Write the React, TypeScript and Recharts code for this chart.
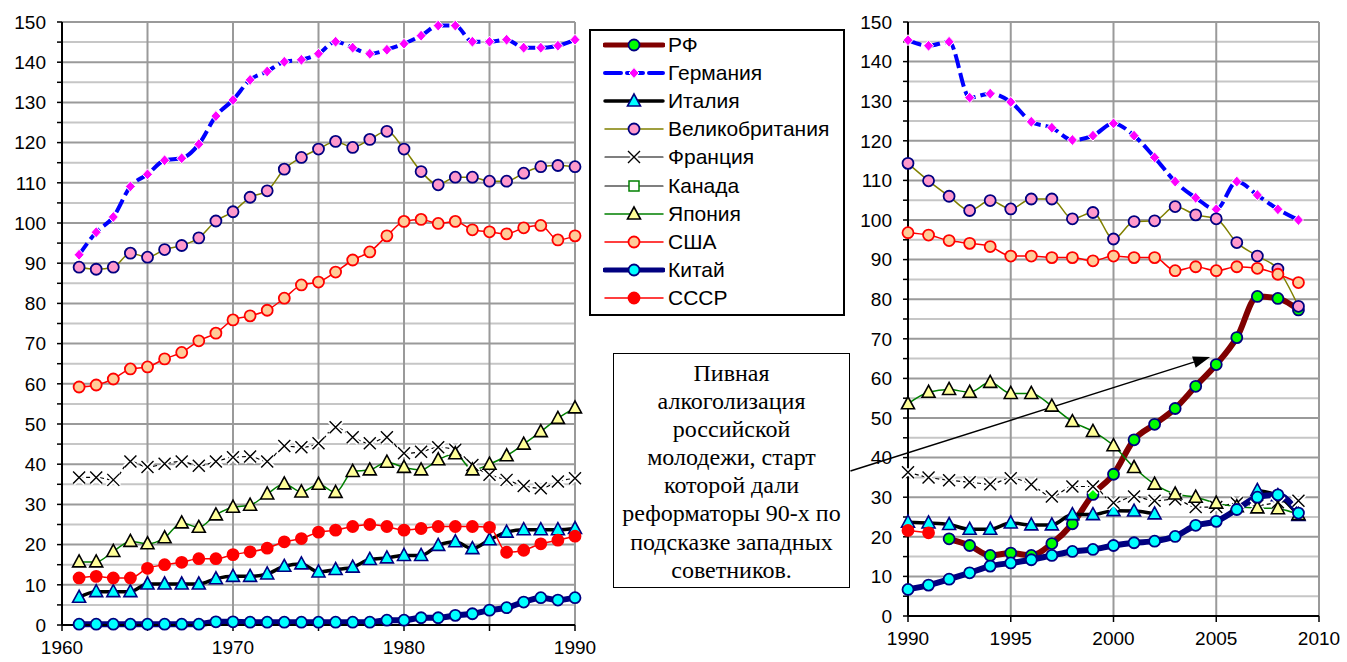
import React from 'react';
import {
  LineChart,
  Line,
  XAxis,
  YAxis,
  CartesianGrid,
  ReferenceLine,
} from 'recharts';

// годы и значения
const yearsA = [
  1961, 1962, 1963, 1964, 1965, 1966, 1967, 1968, 1969, 1970,
  1971, 1972, 1973, 1974, 1975, 1976, 1977, 1978, 1979, 1980,
  1981, 1982, 1983, 1984, 1985, 1986, 1987, 1988, 1989, 1990,
];
const germanyA = [92.1, 97.7, 101.5, 109.1, 112.1, 115.6, 116.1, 119.6, 126.6, 130.6, 135.6, 137.7, 140.1, 140.6, 142.1, 145.1, 143.6, 142.1, 143.1, 144.6, 146.6, 149.1, 149.1, 145.1, 145.1, 145.6, 143.6, 143.6, 144.1, 145.6];
const ukA = [89.0, 88.5, 89.0, 92.5, 91.5, 93.4, 94.4, 96.3, 100.5, 102.8, 106.4, 108.0, 113.4, 116.3, 118.4, 120.3, 118.8, 120.8, 122.8, 118.4, 112.8, 109.5, 111.4, 111.4, 110.4, 110.4, 112.4, 114.0, 114.3, 114.0];
const usaA = [59.2, 59.7, 61.2, 63.7, 64.2, 66.2, 67.8, 70.7, 72.6, 75.9, 76.9, 78.3, 81.3, 84.6, 85.3, 87.8, 90.8, 92.8, 96.8, 100.4, 100.9, 99.9, 100.4, 98.3, 97.8, 97.3, 98.8, 99.4, 95.8, 96.8];
const franceA = [36.7, 36.7, 36.1, 40.7, 39.3, 40.1, 40.7, 39.6, 40.7, 41.7, 41.9, 40.7, 44.5, 44.2, 45.2, 49.2, 46.7, 45.2, 46.7, 42.7, 43.1, 44.2, 43.6, 39.8, 37.4, 36.1, 34.6, 34.0, 35.7, 36.5];
const japanA = [15.7, 15.7, 18.3, 20.8, 20.2, 21.7, 25.4, 24.3, 27.4, 29.3, 29.8, 32.6, 35.1, 33.1, 35.0, 33.0, 38.2, 38.6, 40.5, 39.2, 38.6, 41.1, 42.6, 38.6, 40.0, 42.1, 45.0, 48.1, 51.4, 54.0];
const ussrA = [11.7, 12.1, 11.7, 11.7, 14.1, 15.0, 15.6, 16.5, 16.5, 17.5, 18.2, 19.1, 20.7, 21.5, 23.1, 23.6, 24.5, 25.0, 24.5, 23.6, 24.0, 24.5, 24.5, 24.5, 24.3, 18.1, 18.6, 20.2, 21.1, 22.1];
const italyA = [6.9, 8.3, 8.3, 8.3, 10.2, 10.2, 10.2, 10.2, 11.5, 12.1, 12.1, 12.7, 14.6, 15.2, 13.2, 13.8, 14.4, 16.3, 16.7, 17.3, 17.3, 19.8, 20.7, 19.0, 21.2, 23.1, 23.7, 23.7, 23.7, 24.0];
const chinaA = [0.2, 0.2, 0.2, 0.2, 0.2, 0.2, 0.2, 0.2, 0.8, 0.8, 0.7, 0.7, 0.7, 0.7, 0.7, 0.7, 0.7, 0.7, 1.2, 1.2, 1.8, 1.8, 2.4, 2.8, 3.7, 4.3, 5.7, 6.8, 6.2, 6.8];

const yearsB = [
  1990, 1991, 1992, 1993, 1994, 1995, 1996, 1997, 1998, 1999,
  2000, 2001, 2002, 2003, 2004, 2005, 2006, 2007, 2008, 2009,
];
const rfB = [null, null, 19.5, 17.8, 15.3, 15.9, 15.3, 18.3, 23.3, 30.7, 35.8, 44.5, 48.4, 52.4, 58.0, 63.5, 70.3, 80.7, 80.2, 77.3];
const germanyB = [145.4, 144.0, 145.0, 130.9, 131.9, 129.8, 124.8, 123.3, 120.2, 121.3, 124.4, 121.3, 115.8, 109.7, 105.6, 102.7, 109.7, 106.3, 102.7, 100.0];
const italyB = [23.7, 23.5, 23.1, 21.9, 21.9, 23.5, 23.0, 23.0, 25.6, 25.6, 26.6, 26.5, 25.8, null, null, null, null, 31.7, 30.4, 25.4];
const ukB = [114.3, 109.9, 106.0, 102.4, 104.9, 102.8, 105.3, 105.3, 100.3, 101.9, 95.2, 99.6, 99.8, 103.4, 101.3, 100.3, 94.3, 90.9, 87.6, 78.2];
const franceB = [36.3, 35.0, 34.3, 33.8, 33.3, 34.8, 33.2, 30.2, 32.7, 32.7, 28.6, 30.2, 29.1, 29.5, 27.5, 27.5, 28.5, 27.9, 28.7, 29.1];
const japanB = [53.6, 56.5, 57.2, 56.5, 59.0, 56.2, 56.2, 53.0, 49.1, 46.6, 43.0, 37.5, 33.3, 30.8, 30.0, 28.5, 27.6, 27.3, 27.1, 25.6];
const usaB = [96.8, 96.2, 94.8, 94.1, 93.3, 90.9, 90.9, 90.5, 90.5, 89.7, 90.9, 90.5, 90.5, 87.2, 88.2, 87.2, 88.2, 87.8, 86.3, 84.2];
const chinaB = [6.7, 7.8, 9.3, 10.9, 12.6, 13.4, 14.2, 15.3, 16.3, 16.8, 17.8, 18.5, 18.9, 20.1, 22.9, 23.9, 26.9, 30.0, 30.6, 26.0];
const ussrB = [21.6, 21.0, null, null, null, null, null, null, null, null, null, null, null, null, null, null, null, null, null, null];

const yTicks = [0, 5, 10, 15, 20, 25, 30, 35, 40, 45, 50, 55, 60, 65, 70, 75, 80, 85, 90, 95, 100, 105, 110, 115, 120, 125, 130, 135, 140, 145, 150];
const xTicksA = [1960, 1965, 1970, 1975, 1980, 1985, 1990];
const xTicksB = [1990, 1995, 2000, 2005, 2010];

// стрелка выноски, в координатах правого графика
const arrowFrom = { x: 1987.2, y: 36.6 };
const arrowTo = { x: 2004.7, y: 65.4 };

const noteLines = [
  'Пивная',
  'алкоголизация',
  'российской',
  'молодежи, старт',
  'которой дали',
  'реформаторы 90-х по',
  'подсказке западных',
  'советников.',
];

const dataA = yearsA.map((year, i) => ({
  year,
  germany: germanyA[i],
  italy: italyA[i],
  uk: ukA[i],
  france: franceA[i],
  japan: japanA[i],
  usa: usaA[i],
  china: chinaA[i],
  ussr: ussrA[i],
}));

const dataB = yearsB.map((year, i) => ({
  year,
  rf: rfB[i],
  germany: germanyB[i],
  italy: italyB[i],
  uk: ukB[i],
  france: franceB[i],
  japan: japanB[i],
  usa: usaB[i],
  china: chinaB[i],
  ussr: ussrB[i],
}));

const FONT = '"Liberation Sans", Arial, sans-serif';

// стили серий (порядок = порядок отрисовки и легенды)
const SERIES = [
  { key: 'rf', name: 'РФ', stroke: '#800000', width: 6 },
  { key: 'germany', name: 'Германия', stroke: '#0000ff', width: 4, dash: '14 5' },
  { key: 'italy', name: 'Италия', stroke: '#000000', width: 3.5 },
  { key: 'uk', name: 'Великобритания', stroke: '#808000', width: 1.5 },
  { key: 'france', name: 'Франция', stroke: '#000000', width: 1.2, dash: '4 3' },
  { key: 'canada', name: 'Канада', stroke: '#000000', width: 1.2 },
  { key: 'japan', name: 'Япония', stroke: '#008000', width: 1.5 },
  { key: 'usa', name: 'США', stroke: '#ff0000', width: 1.5 },
  { key: 'china', name: 'Китай', stroke: '#000080', width: 6 },
  { key: 'ussr', name: 'СССР', stroke: '#ff0000', width: 1.5 },
];

function Marker({ kind, cx, cy }: { kind: string; cx: number; cy: number }) {
  const circle = (fill: string, stroke: string) => (
    <circle cx={cx} cy={cy} r={5.5} fill={fill} stroke={stroke} strokeWidth={1.8} />
  );
  const tri = (fill: string, stroke: string) => (
    <polygon
      points={`${cx},${cy - 7} ${cx - 6.5},${cy + 5} ${cx + 6.5},${cy + 5}`}
      fill={fill}
      stroke={stroke}
      strokeWidth={1.6}
      strokeLinejoin="miter"
    />
  );
  switch (kind) {
    case 'rf':
      return circle('#00ff00', '#000080');
    case 'germany':
      return (
        <polygon
          points={`${cx},${cy - 5.5} ${cx + 5},${cy} ${cx},${cy + 5.5} ${cx - 5},${cy}`}
          fill="#ff00ff"
          stroke="#ffffff"
          strokeWidth={1}
        />
      );
    case 'italy':
      return tri('#00ffff', '#000080');
    case 'uk':
      return circle('#ff99cc', '#000080');
    case 'france':
      return (
        <g>
          <path d={`M${cx - 6},${cy - 6}L${cx + 6},${cy + 6}M${cx - 6},${cy + 6}L${cx + 6},${cy - 6}`} stroke="#fff" strokeWidth={5} />
          <path d={`M${cx - 6},${cy - 6}L${cx + 6},${cy + 6}M${cx - 6},${cy + 6}L${cx + 6},${cy - 6}`} stroke="#000" strokeWidth={1.4} />
        </g>
      );
    case 'canada':
      return <rect x={cx - 5} y={cy - 5} width={10} height={10} fill="#fff" stroke="#008000" strokeWidth={1.5} />;
    case 'japan':
      return tri('#ffff99', '#000000');
    case 'usa':
      return circle('#ffcc99', '#ff0000');
    case 'china':
      return circle('#00ffff', '#000080');
    case 'ussr':
      return circle('#ff0000', '#ff0000');
    default:
      return null;
  }
}

const makeDot = (kind: string) => (p: any) => {
  if (p.cx == null || p.cy == null || p.value == null) return <g key={`d${p.index}`} />;
  return (
    <g key={`d${p.index}`}>
      <Marker kind={kind} cx={p.cx} cy={p.cy} />
    </g>
  );
};

const hLine = (p: any) => (
  <line
    key={`h${p.index}`}
    x1={p.x1}
    y1={p.y1}
    x2={p.x2}
    y2={p.y2}
    stroke={p.index % 2 === 0 ? '#9a9a9a' : '#c6c6c6'}
    strokeWidth={2}
  />
);

const ArrowShape = (p: any) => {
  const { x1, y1, x2, y2 } = p;
  if (x1 == null || x2 == null) return <g />;
  const a = Math.atan2(y2 - y1, x2 - x1);
  const len = 17;
  const half = 6;
  const bx = x2 - len * Math.cos(a);
  const by = y2 - len * Math.sin(a);
  const px = -Math.sin(a) * half;
  const py = Math.cos(a) * half;
  return (
    <g>
      <line x1={x1} y1={y1} x2={bx} y2={by} stroke="#000" strokeWidth={1.5} />
      <polygon points={`${x2},${y2} ${bx + px},${by + py} ${bx - px},${by - py}`} fill="#000" />
    </g>
  );
};

const tickStyle = { fill: '#000', fontSize: 19, fontFamily: FONT };

function Panel(props: {
  data: any[];
  keys: string[];
  width: number;
  margin: { top: number; right: number; bottom: number; left: number };
  yWidth: number;
  xDomain: [number, number];
  xTicks: number[];
  labelEvery: number;
  withArrow?: boolean;
}) {
  const { data, keys, width, margin, yWidth, xDomain, xTicks, labelEvery, withArrow } = props;
  return (
    <LineChart width={width} height={662} data={data} margin={margin} style={{ overflow: 'visible' }}>
      <CartesianGrid horizontal={hLine} stroke="#9a9a9a" strokeWidth={2} />
      <XAxis
        dataKey="year"
        type="number"
        domain={xDomain}
        ticks={xTicks}
        interval={0}
        height={30}
        tick={tickStyle}
        tickSize={6}
        tickMargin={10}
        tickFormatter={(v: number) => (v % labelEvery === 0 ? String(v) : '')}
        axisLine={{ stroke: '#000', strokeWidth: 2 }}
        tickLine={{ stroke: '#000', strokeWidth: 1.5 }}
      />
      <YAxis
        type="number"
        domain={[0, 150]}
        ticks={yTicks}
        interval={0}
        width={yWidth}
        tick={tickStyle}
        tickSize={5}
        tickMargin={11}
        tickFormatter={(v: number) => (v % 10 === 0 ? String(v) : '')}
        axisLine={{ stroke: '#000', strokeWidth: 2 }}
        tickLine={{ stroke: '#000', strokeWidth: 1.5 }}
      />
      {SERIES.filter((s) => keys.includes(s.key)).map((s) => (
        <Line
          key={s.key}
          dataKey={s.key}
          type="monotone"
          stroke={s.stroke}
          strokeWidth={s.width}
          strokeDasharray={s.dash}
          dot={makeDot(s.key)}
          activeDot={false}
          connectNulls={false}
          isAnimationActive={false}
        />
      ))}
      {withArrow && (
        <ReferenceLine segment={[arrowFrom, arrowTo]} ifOverflow="visible" shape={ArrowShape} />
      )}
    </LineChart>
  );
}

function Legend() {
  return (
    <div
      style={{
        position: 'absolute',
        left: 589,
        top: 29,
        width: 252,
        height: 283,
        border: '2px solid #000',
        background: '#fff',
        fontFamily: FONT,
        fontSize: 21,
        boxSizing: 'content-box',
      }}
    >
      {SERIES.map((s, i) => (
        <div
          key={s.key}
          style={{ position: 'absolute', left: 12, top: 1 + i * 28.1, height: 26, display: 'flex', alignItems: 'center' }}
        >
          <svg width={62} height={20} style={{ display: 'block' }}>
            <line
              x1={2}
              y1={10}
              x2={60}
              y2={10}
              stroke={s.stroke}
              strokeWidth={Math.min(s.width, 5)}
              strokeDasharray={s.key === 'germany' ? '16 6' : undefined}
              strokeLinecap="round"
            />
            <Marker kind={s.key} cx={31} cy={10} />
          </svg>
          <span style={{ marginLeft: 3 }}>{s.name}</span>
        </div>
      ))}
    </div>
  );
}

function Note() {
  return (
    <div
      style={{
        position: 'absolute',
        left: 613,
        top: 353,
        width: 237,
        height: 235,
        border: '1.5px solid #000',
        background: '#fff',
        fontFamily: '"Liberation Serif", "Times New Roman", serif',
        fontSize: 24,
        lineHeight: '28.1px',
        textAlign: 'center',
        paddingTop: 5,
        boxSizing: 'border-box',
        zIndex: 2,
      }}
    >
      {noteLines.map((l) => (
        <div key={l}>{l}</div>
      ))}
    </div>
  );
}

export default function App() {
  return (
    <div style={{ position: 'absolute', left: 0, top: 0, width: 1347, height: 662, background: '#fff', overflow: 'hidden' }}>
      <div style={{ position: 'absolute', left: 0, top: 0 }}>
        <Panel
          data={dataA}
          keys={['germany', 'italy', 'uk', 'france', 'japan', 'usa', 'china', 'ussr']}
          width={605}
          margin={{ top: 22, right: 30, bottom: 7, left: 0 }}
          yWidth={62}
          xDomain={[1960, 1990]}
          xTicks={xTicksA}
          labelEvery={10}
        />
      </div>
      <div style={{ position: 'absolute', left: 840, top: 0, zIndex: 1 }}>
        <Panel
          data={dataB}
          keys={['rf', 'germany', 'italy', 'uk', 'france', 'japan', 'usa', 'china', 'ussr']}
          width={507}
          margin={{ top: 22, right: 28, bottom: 16, left: 18 }}
          yWidth={50}
          xDomain={[1990, 2010]}
          xTicks={xTicksB}
          labelEvery={5}
          withArrow
        />
      </div>
      <Legend />
      <Note />
    </div>
  );
}
